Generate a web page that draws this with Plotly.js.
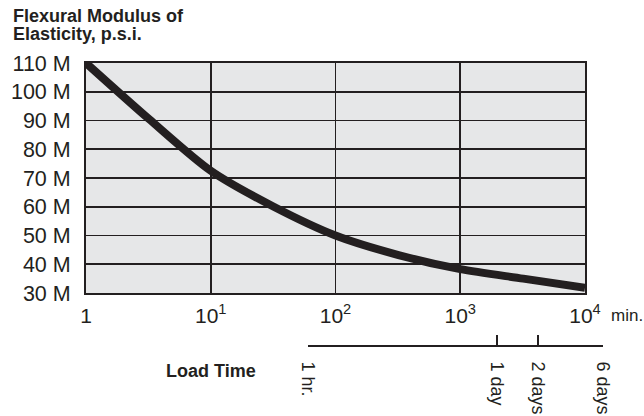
<!DOCTYPE html>
<html>
<head>
<meta charset="utf-8">
<script src="https://cdn.plot.ly/plotly-3.0.1.min.js"></script>
<style>html,body{margin:0;padding:0;background:#fff;}#chart{width:644px;height:416px;}</style>
</head>
<body>
<div id="chart"></div>
<script>
// Load time in minutes (log scale) and flexural modulus in millions of p.s.i.
const loadTimeMin = [1, 3.2, 10, 32, 100, 320, 1000, 3200, 10000];
const modulusM = [110, 90.5, 72.5, 60, 50, 43.2, 38.3, 35.0, 31.8];

const yTickVals = [30, 40, 50, 60, 70, 80, 90, 100, 110];
const yTickText = ["30 M", "40 M", "50 M", "60 M", "70 M", "80 M", "90 M", "100 M", "110 M"];
const xTickVals = [1, 10, 100, 1000, 10000];
const xTickText = ["1", "10<sup>1</sup>", "10<sup>2</sup>", "10<sup>3</sup>", "10<sup>4</sup>"];
const durTickVals = [60, 1440, 2880, 8640];
const durTickText = ["1 hr.", "1 day", "2 days", "6 days"];

const ink = "#231f20";
const W = 644, H = 416;
const L = 86, R = 41, T = 63, B = 70;
const plotW = W - L - R, plotH = H - T - B;
const px = x => (x - L) / plotW;
const py = y => (H - B - y) / plotH;

const data = [
  {x: loadTimeMin, y: modulusM, type: "scatter", mode: "lines",
   line: {color: ink, width: 8, shape: "spline", smoothing: 0.8},
   xaxis: "x", yaxis: "y", hoverinfo: "skip"},
  {x: durTickVals, y: [null, null, null, null], type: "scatter", mode: "lines",
   xaxis: "x2", yaxis: "y2", showlegend: false, hoverinfo: "skip"}
];

const font = "Liberation Sans, Arial, Helvetica, sans-serif";
const layout = {
  width: W, height: H,
  margin: {l: L, r: R, t: T, b: B, pad: 0},
  paper_bgcolor: "#ffffff",
  plot_bgcolor: "rgba(0,0,0,0)",
  showlegend: false,
  font: {family: font, color: ink},
  shapes: [
    {type: "rect", xref: "x domain", yref: "y domain", x0: 0, x1: 1, y0: 0, y1: 1,
     fillcolor: "#e6e7e8", line: {width: 0}, layer: "below"}
  ],
  xaxis: {
    type: "log", range: [0, 4], domain: [0, px(585)],
    tickvals: xTickVals, ticktext: xTickText,
    tickfont: {size: 21, color: ink, family: font},
    ticks: "", ticklabelstandoff: 3,
    showgrid: true, gridcolor: ink, gridwidth: 1.6,
    showline: true, linecolor: ink, linewidth: 2, mirror: true,
    zeroline: false, fixedrange: true
  },
  yaxis: {
    range: [30, 110], domain: [py(293), 1],
    tickvals: yTickVals, ticktext: yTickText,
    tickfont: {size: 21.5, color: ink, family: font},
    ticks: "", ticklabelstandoff: 9,
    showgrid: true, gridcolor: ink, gridwidth: 1.6,
    showline: true, linecolor: ink, linewidth: 2, mirror: true,
    zeroline: false, fixedrange: true
  },
  xaxis2: {
    type: "log", range: [Math.log10(60), Math.log10(8640)],
    domain: [px(308), 1], anchor: "free", position: 0,
    tickvals: durTickVals, ticktext: durTickText,
    tickfont: {size: 18, color: ink, family: font},
    ticks: "inside", ticklen: 10, tickwidth: 2, tickcolor: ink,
    tickangle: 90, ticklabelstandoff: 11,
    showgrid: false, showline: true, linecolor: ink, linewidth: 2,
    zeroline: false, fixedrange: true
  },
  yaxis2: {
    domain: [0, 0.01], anchor: "x2", visible: false, showgrid: false,
    zeroline: false, fixedrange: true
  },
  annotations: [
    {text: "<b>Flexural Modulus of</b>", xref: "paper", yref: "paper",
     x: px(11), y: py(4), xanchor: "left", yanchor: "top", showarrow: false,
     font: {size: 18, color: ink, family: font}},
    {text: "<b>Elasticity, p.s.i.</b>", xref: "paper", yref: "paper",
     x: px(11), y: py(22), xanchor: "left", yanchor: "top", showarrow: false,
     font: {size: 18, color: ink, family: font}},
    {text: "<b>Load Time</b>", xref: "paper", yref: "paper",
     x: px(211), y: py(371), xanchor: "center", yanchor: "middle", showarrow: false,
     font: {size: 18, color: ink, family: font}},
    {text: "min.", xref: "paper", yref: "paper",
     x: px(609), y: py(315), xanchor: "left", yanchor: "middle", showarrow: false,
     font: {size: 17, color: ink, family: font}}
  ]
};

Plotly.newPlot("chart", data, layout, {displayModeBar: false, staticPlot: true});
</script>
</body>
</html>
